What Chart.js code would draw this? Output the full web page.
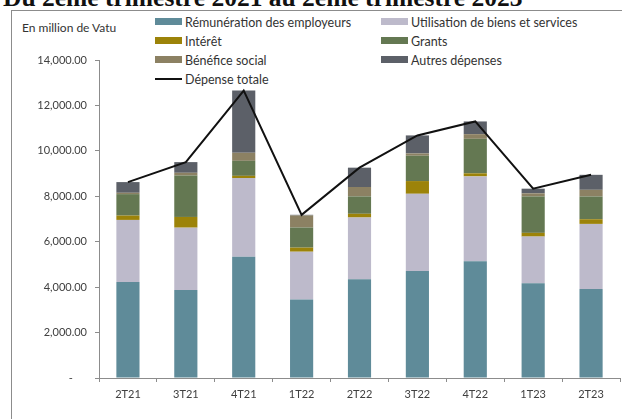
<!DOCTYPE html>
<html>
<head>
<meta charset="utf-8">
<script src="https://cdn.jsdelivr.net/npm/chart.js@4"></script>
<style>
  html, body { margin: 0; padding: 0; background: #fff; overflow: hidden; }
  #wrap { position: relative; width: 622px; height: 419px; overflow: hidden; }
  #title {
    position: absolute; left: 3px; top: -15px; white-space: nowrap;
    font: bold 25.5px/25.5px "Liberation Serif", serif; color: #111;
  }
  #frame {
    position: absolute; left: 11px; top: 10px; width: 700px; height: 500px;
    border: 1px solid #8c8c8c;
  }
  #unit {
    position: absolute; left: 22px; top: 20px;
    font: 12px Lato, sans-serif; color: #333;
  }
  .leg {
    position: absolute; font: 12.5px Lato, sans-serif; color: #333;
    white-space: nowrap; line-height: 14px;
  }
  .leg span { display: inline-block; width: 27px; height: 7px; margin-right: 3px; vertical-align: 2px; }
  #myChart { position: absolute; left: 0; top: 0; }
</style>
</head>
<body>
<div id="wrap">
  <div id="title">Du 2ème trimestre 2021 au 2ème trimestre 2023</div>
  <div id="frame"></div>
  <div id="unit">En million de Vatu</div>
  <div id="legend"></div>
  <canvas id="myChart" width="622" height="419"></canvas>
</div>
<script>
const categories = ["2T21", "3T21", "4T21", "1T22", "2T22", "3T22", "4T22", "1T23", "2T23"];

// en million de Vatu
const remuneration = [4225, 3870, 5340, 3460, 4345, 4710, 5140, 4170, 3915];
const utilisation = [2735, 2750, 3460, 2100, 2720, 3400, 3735, 2055, 2870];
const interet = [190, 470, 100, 180, 165, 560, 135, 165, 205];
const grants = [945, 1825, 660, 885, 765, 1115, 1520, 1605, 1000];
const social = [60, 120, 355, 530, 415, 100, 205, 135, 295];
const autres = [470, 470, 2740, 30, 850, 795, 560, 205, 660];
const total = [8625, 9505, 12655, 7185, 9260, 10680, 11295, 8335, 8945];

const yTicks = [0, 2000, 4000, 6000, 8000, 10000, 12000, 14000];

let ctx = document.getElementById("myChart").getContext("2d");

Chart.defaults.font.family = "Lato";
Chart.defaults.font.size = 11;
Chart.defaults.color = "#404040";

function bar(label, data, color) {
  return {
    type: "bar",
    label: label,
    data: data,
    backgroundColor: color,
    borderWidth: 0,
    barPercentage: 1,
    categoryPercentage: 0.4,
    order: 1,
  };
}

let chart = new Chart(ctx, {
  data: {
    labels: categories,
    datasets: [
      bar("Rémunération des employeurs", remuneration, "#5f8b99"),
      bar("Utilisation de biens et services", utilisation, "#bdbacb"),
      bar("Intérêt", interet, "#9c8309"),
      bar("Grants", grants, "#647852"),
      bar("Bénéfice social", social, "#8c8163"),
      bar("Autres dépenses", autres, "#5c6068"),
      {
        type: "line",
        label: "Dépense totale",
        data: total,
        borderColor: "#111",
        borderWidth: 2,
        pointRadius: 0,
        tension: 0,
        stack: "total",
        order: 0,
      },
    ],
  },
  options: {
    responsive: false,
    animation: false,
    devicePixelRatio: 1,
    layout: { padding: { top: 60, right: 2, left: 0, bottom: 0 } },
    plugins: {
      legend: { display: false },
      tooltip: { enabled: false },
    },
    scales: {
      x: {
        stacked: true,
        offset: true,
        grid: {
          offset: true,
          drawOnChartArea: false,
          tickLength: 4,
          color: "#8c8c8c",
        },
        border: { color: "#8c8c8c", width: 1 },
        ticks: { padding: 6 },
        afterFit: (s) => { s.height = 41; },
      },
      y: {
        stacked: true,
        min: 0,
        max: 14000,
        afterBuildTicks: (s) => { s.ticks = yTicks.map((v) => ({ value: v })); },
        grid: {
          drawOnChartArea: false,
          tickLength: 4,
          color: "#8c8c8c",
        },
        border: { color: "#8c8c8c", width: 1 },
        ticks: {
          padding: 8,
          callback: (v) => v === 0 ? "-     " :
            v.toLocaleString("en-US", { minimumFractionDigits: 2, maximumFractionDigits: 2 }),
        },
        afterFit: (s) => { s.width = 99; },
      },
    },
  },
});

// legend laid out in two columns like the original
const legendPos = [
  [155, 16], [381, 16],
  [155, 35], [381, 35],
  [155, 54], [381, 54],
  [155, 73],
];
let legendHtml = "";
chart.data.datasets.forEach((ds, i) => {
  let key = ds.type === "line"
    ? '<span style="height:2px;vertical-align:4px;background:' + ds.borderColor + '"></span>'
    : '<span style="background:' + ds.backgroundColor + '"></span>';
  legendHtml += '<div class="leg" style="left:' + legendPos[i][0] + 'px;top:' + legendPos[i][1] + 'px">' + key + ds.label + "</div>";
});
document.getElementById("legend").innerHTML = legendHtml;
</script>
</body>
</html>
